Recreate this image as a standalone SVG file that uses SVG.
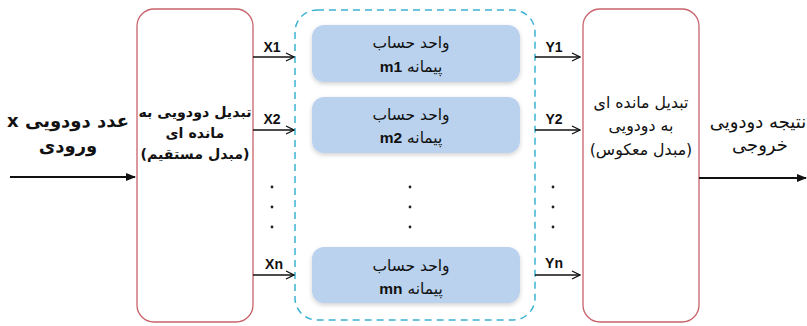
<svg xmlns="http://www.w3.org/2000/svg" width="807" height="326" viewBox="0 0 807 326">
<defs>
<style>
.fa{font-family:"DejaVu Sans",sans-serif;font-size:15.5px;fill:#111;text-anchor:middle;direction:rtl;unicode-bidi:embed}
.fab{font-weight:bold}
.lft{font-size:14.2px}
.rgt{font-size:15.8px}
.io{font-size:18px}
.b{font-weight:bold;font-family:"Liberation Sans",Arial,sans-serif}
.lbl{font-family:"Liberation Sans",Arial,sans-serif;font-size:14px;font-weight:bold;fill:#111;text-anchor:middle}
.red{fill:#fff;stroke:#c8636b;stroke-width:1.3}
.unit{fill:#bad2ee;stroke:none}
.dash{fill:none;stroke:#3ab3d2;stroke-width:1.5;stroke-dasharray:7 5}
.ln{stroke:#111;stroke-width:1.3;fill:none}
.thick{stroke:#111;stroke-width:2.2;fill:none}
.dot{fill:#222}
</style>
<marker id="open" viewBox="0 0 10 10" refX="9" refY="5" markerWidth="10" markerHeight="10" markerUnits="userSpaceOnUse" orient="auto">
<path d="M1,1 L9,5 L1,9" fill="none" stroke="#111" stroke-width="1.3"/>
</marker>
<marker id="solid" viewBox="0 0 10 10" refX="9" refY="5" markerWidth="11" markerHeight="10" markerUnits="userSpaceOnUse" orient="auto">
<path d="M0,1 L10,5 L0,9 Z" fill="#111"/>
</marker>
<filter id="sh" x="-10%" y="-20%" width="120%" height="150%">
<feDropShadow dx="0" dy="2" stdDeviation="2" flood-color="#000" flood-opacity="0.18"/>
</filter>
</defs>

<g id="input-label">
<text class="fa fab io" x="68" y="127">عدد دودویی x</text>
<text class="fa fab io" x="68" y="152">ورودی</text>
</g>

<g id="forward-converter">
<rect class="red" x="137" y="9" width="116" height="313" rx="17"/>
<text class="fa fab lft" x="195" y="117">تبدیل دودویی به</text>
<text class="fa fab lft" x="195" y="138">مانده ای</text>
<text class="fa fab lft" x="195" y="159">(مبدل مستقیم)</text>
</g>

<g id="channel-group">
<rect class="dash" x="295" y="10" width="240" height="310" rx="22"/>
</g>

<g id="unit-m1">
<rect class="unit" x="312" y="25" width="208" height="57" rx="12" filter="url(#sh)"/>
<text class="fa" x="411" y="48">واحد حساب</text>
<text class="fa" x="411" y="72">پیمانه <tspan class="b">m1</tspan></text>
</g>

<g id="unit-m2">
<rect class="unit" x="312" y="97" width="208" height="56" rx="12" filter="url(#sh)"/>
<text class="fa" x="411" y="120">واحد حساب</text>
<text class="fa" x="411" y="143">پیمانه <tspan class="b">m2</tspan></text>
</g>

<g id="unit-mn">
<rect class="unit" x="312" y="247" width="208" height="56" rx="12" filter="url(#sh)"/>
<text class="fa" x="411" y="271">واحد حساب</text>
<text class="fa" x="411" y="294">پیمانه <tspan class="b">mn</tspan></text>
</g>

<g id="reverse-converter">
<rect class="red" x="583" y="9" width="116" height="313" rx="17"/>
<text class="fa rgt" x="641" y="108">تبدیل مانده ای</text>
<text class="fa rgt" x="641" y="131">به دودویی</text>
<text class="fa rgt" x="641" y="155">(مبدل معکوس)</text>
</g>

<g id="output-label">
<text class="fa io" x="758" y="128">نتیجه دودویی</text>
<text class="fa io" x="760" y="151">خروجی</text>
</g>

<g id="connectors">
<line class="thick" x1="10" y1="177" x2="135" y2="177" marker-end="url(#solid)"/>
<line class="thick" x1="699" y1="178" x2="806" y2="178" marker-end="url(#solid)"/>

<line class="ln" x1="253" y1="57" x2="294" y2="57" marker-end="url(#open)"/>
<line class="ln" x1="253" y1="130" x2="294" y2="130" marker-end="url(#open)"/>
<line class="ln" x1="253" y1="275" x2="294" y2="275" marker-end="url(#open)"/>
<text class="lbl" x="272" y="52">X1</text>
<text class="lbl" x="272" y="124">X2</text>
<text class="lbl" x="274" y="269">Xn</text>

<line class="ln" x1="535" y1="57" x2="580" y2="57" marker-end="url(#open)"/>
<line class="ln" x1="535" y1="130" x2="580" y2="130" marker-end="url(#open)"/>
<line class="ln" x1="535" y1="275" x2="580" y2="275" marker-end="url(#open)"/>
<text class="lbl" x="554" y="52">Y1</text>
<text class="lbl" x="554" y="124">Y2</text>
<text class="lbl" x="554" y="268">Yn</text>

<circle class="dot" cx="272" cy="187" r="1.4"/>
<circle class="dot" cx="272" cy="207" r="1.4"/>
<circle class="dot" cx="272" cy="227" r="1.4"/>
<circle class="dot" cx="410" cy="187" r="1.4"/>
<circle class="dot" cx="410" cy="207" r="1.4"/>
<circle class="dot" cx="410" cy="227" r="1.4"/>
<circle class="dot" cx="553" cy="187" r="1.4"/>
<circle class="dot" cx="553" cy="207" r="1.4"/>
<circle class="dot" cx="553" cy="227" r="1.4"/>
</g>
</svg>
